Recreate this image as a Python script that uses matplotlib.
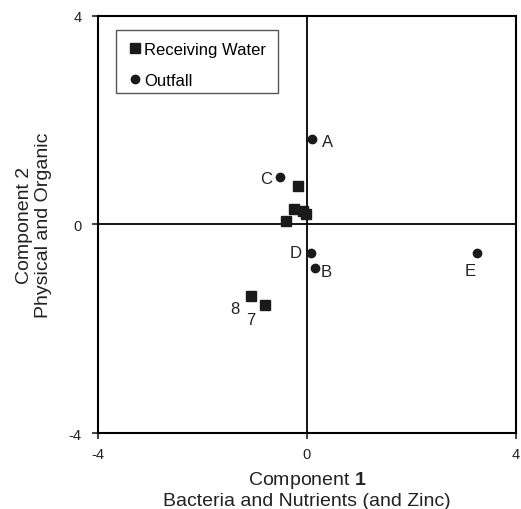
import matplotlib
matplotlib.use('Agg')
import matplotlib.pyplot as plt
from matplotlib.patches import Rectangle

plt.rcParams['font.family'] = ['Liberation Sans', 'DejaVu Sans']
plt.rcParams['mathtext.fontset'] = 'custom'
plt.rcParams['mathtext.rm'] = 'Liberation Sans'
plt.rcParams['mathtext.bf'] = 'Liberation Sans:bold'
plt.rcParams['axes.unicode_minus'] = False

# Receiving water sites
rw_x = [-0.17, -0.25, -0.08, -0.01, -0.39, -1.07, -0.80]
rw_y = [0.73, 0.30, 0.26, 0.20, 0.07, -1.38, -1.54]
rw_labels = ['', '', '', '', '', '8', '7']

# Outfall sites
of_x = [0.10, -0.52, 0.08, 0.15, 3.25]
of_y = [1.64, 0.91, -0.55, -0.83, -0.55]
of_labels = ['A', 'C', 'D', 'B', 'E']

# label offsets (points) from the marker, text centred
of_offsets = [(10.8, -2.2), (-10, -1.4), (-10.8, 0.7), (8.6, -2.6), (-4.3, -12.2)]
rw_offsets = [(0, 0)] * 5 + [(-11.5, -8.6), (-10, -10.5)]

fig = plt.figure(figsize=(5.21, 5.10), dpi=100)
ax = fig.add_axes([0.188, 0.149, 0.802, 0.818])

ax.axhline(0, color='black', lw=1.3, zorder=1)
ax.axvline(0, color='black', lw=1.3, zorder=1)

ax.plot(rw_x, rw_y, 's', color='#1a1a1a', ms=7, label='Receiving Water', zorder=3)
ax.plot(of_x, of_y, 'o', color='#1a1a1a', ms=6, label='Outfall', zorder=3)

for x, y, t, off in zip(of_x + rw_x, of_y + rw_y, of_labels + rw_labels, of_offsets + rw_offsets):
    if t:
        ax.annotate(t, (x, y), xytext=off, textcoords='offset points', fontsize=12,
                    color='#222222', ha='center', va='center')

ax.set_xlim(-4, 4)
ax.set_ylim(-4, 4)
ax.set_xticks([-4, 0, 4])
ax.set_yticks([-4, 0, 4])
ax.tick_params(direction='out', length=4, width=1.2, labelsize=10.5, colors='#222222')
ax.tick_params(axis='x', pad=6)
ax.tick_params(axis='y', pad=8)
for s in ax.spines.values():
    s.set_linewidth(1.5)

ax.set_xlabel('Component $\\mathbf{1}$\nBacteria and Nutrients (and Zinc)', fontsize=14,
              color='#222222', labelpad=6, linespacing=1.1)
ax.set_ylabel('Component 2\nPhysical and Organic', fontsize=14,
              color='#222222', labelpad=12, linespacing=1.1)

# legend box
ax.add_patch(Rectangle((0.043, 0.815), 0.388, 0.151, transform=ax.transAxes,
                       facecolor='white', edgecolor='#555555', lw=1.0, zorder=4))
leg = ax.legend(loc='upper left', bbox_to_anchor=(0.024, 0.976), frameon=False,
                fontsize=12, handlelength=1.4, handletextpad=-0.2,
                borderpad=0.45, labelspacing=0.95, markerscale=1.0)
leg.set_zorder(5)

fig.savefig('out.png', dpi=100)
